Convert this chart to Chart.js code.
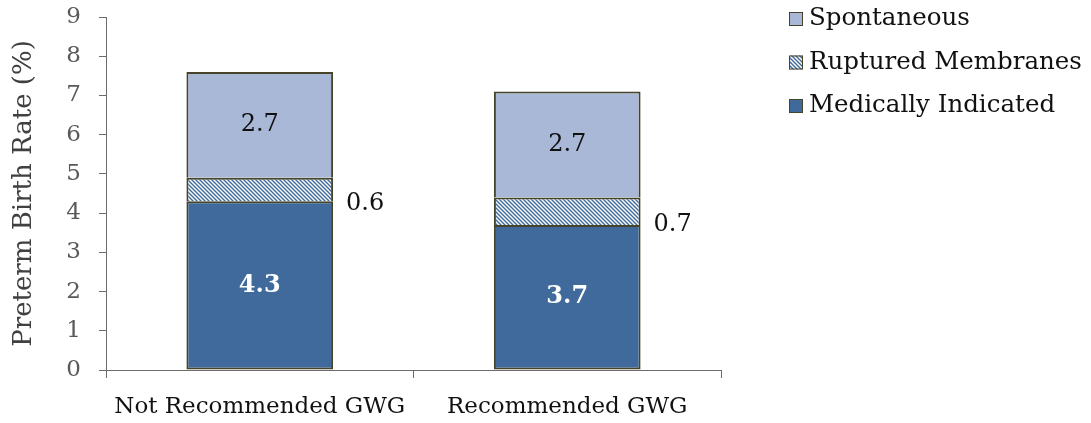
<!DOCTYPE html>
<html>
<head>
<meta charset="utf-8">
<script src="https://cdn.jsdelivr.net/npm/chart.js@4.4.1/dist/chart.umd.min.js"></script>
<style>
    html, body { margin: 0; padding: 0; background: #ffffff; }
    #wrap { width: 1091px; height: 423px; }
</style>
</head>
<body>
<div id="wrap"><canvas id="pretermChart" width="1091" height="423"></canvas></div>
<script>
// Preterm birth rate by gestational weight gain group (%)
const categories = ['Not Recommended GWG', 'Recommended GWG'];
const medicallyIndicated = [4.3, 3.7];
const rupturedMembranes = [0.6, 0.7];
const spontaneous = [2.7, 2.7];
const yTicks = [0, 1, 2, 3, 4, 5, 6, 7, 8, 9];

const FONT = "'DejaVu Serif', 'Liberation Serif', serif";
const BLUE = '#3f6a9b';
const LIGHT_BLUE = '#a9b8d6';
const OUTLINE = '#46432b';

// Diagonal hatch used for ruptured membranes
function makeHatch() {
    const c = document.createElement('canvas');
    c.width = 4;
    c.height = 4;
    const g = c.getContext('2d');
    g.fillStyle = '#ffffff';
    g.fillRect(0, 0, 4, 4);
    g.strokeStyle = BLUE;
    g.lineWidth = 1.4;
    g.beginPath();
    g.moveTo(-1, -1); g.lineTo(5, 5);
    g.moveTo(-1, 3); g.lineTo(1, 5);
    g.moveTo(3, -1); g.lineTo(5, 1);
    g.stroke();
    return g.createPattern(c, 'repeat');
}
const hatch = makeHatch();

// Value labels: white bold inside the bottom segment, beside the bar for the thin one
const valueLabels = {
    id: 'valueLabels',
    afterDatasetsDraw(chart) {
        const ctx = chart.ctx;
        ctx.save();
        ctx.textBaseline = 'middle';
        chart.data.datasets.forEach((ds, di) => {
            const meta = chart.getDatasetMeta(di);
            meta.data.forEach((bar, i) => {
                const v = ds.data[i];
                const mid = (bar.y + bar.base) / 2;
                if (di === 0) {
                    ctx.font = 'bold 24px ' + FONT;
                    ctx.fillStyle = '#ffffff';
                    ctx.textAlign = 'center';
                    ctx.fillText(v.toFixed(1), bar.x, mid);
                } else if (di === 1) {
                    ctx.font = '24px ' + FONT;
                    ctx.fillStyle = '#111111';
                    ctx.textAlign = 'left';
                    ctx.fillText(v.toFixed(1), bar.x + bar.width / 2 + 13, mid + 14);
                } else {
                    ctx.font = '24px ' + FONT;
                    ctx.fillStyle = '#111111';
                    ctx.textAlign = 'center';
                    ctx.fillText(v.toFixed(1), bar.x, mid);
                }
            });
        });
        ctx.restore();
    }
};

// Legend on the right, top series first
const sideLegend = {
    id: 'sideLegend',
    afterDraw(chart) {
        const ctx = chart.ctx;
        const rows = chart.data.datasets.slice().reverse();
        ctx.save();
        ctx.font = '24.5px ' + FONT;
        ctx.textBaseline = 'middle';
        ctx.textAlign = 'left';
        rows.forEach((ds, i) => {
            const cy = 19 + i * 43.5;
            ctx.fillStyle = ds.backgroundColor;
            ctx.fillRect(789, cy - 7, 14, 14);
            ctx.strokeStyle = OUTLINE;
            ctx.lineWidth = 1;
            ctx.strokeRect(789.5, cy - 6.5, 13, 13);
            ctx.fillStyle = '#111111';
            ctx.fillText(ds.label, 809, cy);
        });
        ctx.restore();
    }
};

const barStyle = {
    borderColor: OUTLINE,
    borderSkipped: false,
    barPercentage: 0.477,
    categoryPercentage: 1.0
};
// upper segments leave out the bottom edge so joins stay a single line
const openBottom = { top: 2, left: 2, right: 2, bottom: 0 };

new Chart(document.getElementById('pretermChart').getContext('2d'), {
    type: 'bar',
    data: {
        labels: categories,
        datasets: [
            Object.assign({ label: 'Medically Indicated', data: medicallyIndicated, backgroundColor: BLUE, borderWidth: 2 }, barStyle),
            Object.assign({ label: 'Ruptured Membranes', data: rupturedMembranes, backgroundColor: hatch, borderWidth: openBottom }, barStyle),
            Object.assign({ label: 'Spontaneous', data: spontaneous, backgroundColor: LIGHT_BLUE, borderWidth: openBottom }, barStyle)
        ]
    },
    options: {
        responsive: false,
        animation: false,
        layout: {
            padding: { left: 0, right: 370, top: 17, bottom: 0 }
        },
        plugins: {
            legend: { display: false },
            tooltip: { enabled: false }
        },
        scales: {
            x: {
                stacked: true,
                afterFit: (scale) => { scale.height = 53; },
                border: { color: '#6b6b6b', width: 1 },
                grid: {
                    offset: true,
                    drawOnChartArea: false,
                    tickLength: 8,
                    color: '#6b6b6b'
                },
                ticks: {
                    color: '#111111',
                    padding: 15,
                    font: { family: FONT, size: 23 }
                }
            },
            y: {
                stacked: true,
                min: 0,
                max: 9,
                afterFit: (scale) => {
                    scale.width = 106;
                    scale.paddingTop = 0;
                    scale.paddingBottom = 0;
                },
                afterBuildTicks: (scale) => { scale.ticks = yTicks.map(v => ({ value: v })); },
                border: { color: '#6b6b6b', width: 1 },
                grid: {
                    drawOnChartArea: false,
                    tickLength: 7,
                    color: '#6b6b6b'
                },
                ticks: {
                    color: '#595959',
                    padding: 18,
                    font: { family: FONT, size: 23 }
                },
                title: {
                    display: true,
                    text: 'Preterm Birth Rate (%)',
                    color: '#404040',
                    padding: { top: 9, bottom: 0 },
                    font: { family: FONT, size: 26 }
                }
            }
        }
    },
    plugins: [valueLabels, sideLegend]
});
</script>
</body>
</html>
